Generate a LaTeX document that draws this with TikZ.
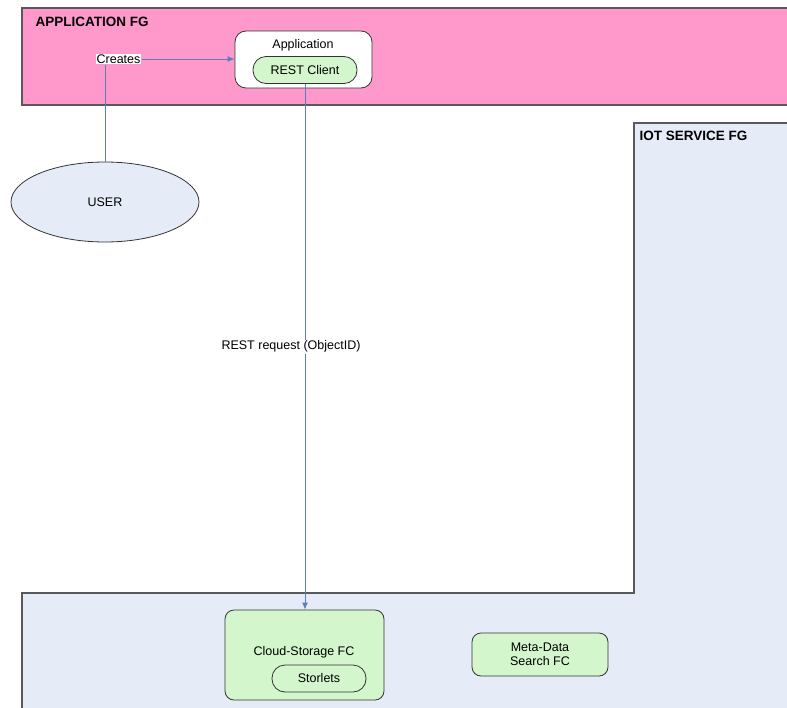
\documentclass[tikz,border=0pt]{standalone}
\usepackage{fontspec}
\setmainfont{Liberation Sans}
\usetikzlibrary{arrows.meta,shapes.geometric}
\definecolor{fgpink}{HTML}{FF99CC}
\definecolor{fgblue}{HTML}{E6ECF7}
\definecolor{fcgreen}{HTML}{D3F6CC}
\definecolor{linkblue}{HTML}{5B7DB8}

\begin{document}
\begin{tikzpicture}[x=1pt,y=-1pt,
    every node/.style={font=\fontsize{12.5}{14.5}\selectfont},
    fgbox/.style={draw=black!65, line width=1.2pt},
    fgtitle/.style={anchor=north west,font=\fontsize{13.5}{15.5}\selectfont\bfseries},
    fcbox/.style={draw=black!80, fill=fcgreen, thick, rounded corners=9pt},
    pill/.style={fcbox, rounded corners=13pt},
    link/.style={draw=linkblue, line width=1pt},
    arrowlink/.style={link, -{Latex[length=7pt,width=6pt]}}]
    \useasboundingbox (0,0) rectangle (787,707);
    % functional groups
    \draw[fgbox, fill=fgpink] (22,8) rectangle (792,105);
    \node[fgtitle] (appfg) at (32,14) {APPLICATION FG};
    \draw[fgbox, fill=fgblue] (634,123) -- (792,123) -- (792,712) -- (22,712) -- (22,593) -- (634,593) -- cycle;
    \node[fgtitle] (iotfg) at (636,128) {IOT SERVICE FG};
    % application
    \node[draw=black!80, fill=white, thick, rounded corners=11pt, minimum width=137, minimum height=57] (app) at (303.5,59.5) {};
    \node (apptext) at (303,45) {Application};
    \node[pill, minimum width=104, minimum height=27, inner sep=1pt] (rest) at (305,70) {REST Client};
    \node[fill=white, inner sep=1pt] (creates) at (118.5,59) {Creates};
    \node[ellipse, draw=black!80, thick, fill=fgblue, minimum width=188, minimum height=80] (user) at (105,202) {USER};
    % function components
    \node[fcbox, minimum width=159, minimum height=90] (cloud) at (304.5,655) {};
    \node (cloudtext) at (304,652) {Cloud-Storage FC};
    \node[pill, minimum width=94, minimum height=27, inner sep=1pt] (storlets) at (319,678.5) {Storlets};
    \node[fcbox, minimum width=136, minimum height=43, align=center, inner sep=1pt, font=\fontsize{12.5}{13.5}\selectfont] (meta) at (540,654.5) {Meta-Data\\Search FC};
    % connectors
    \draw[arrowlink] (creates) -- (creates -| app.west);
    \draw[link] (user.north |- creates.south) -- (user.north);
    \draw[arrowlink] (rest.south) -- (rest.south |- cloud.north)
        node[pos=0.5, fill=white, inner sep=1pt, xshift=-14pt] (restreq) {REST request (ObjectID)};
\end{tikzpicture}
\end{document}
